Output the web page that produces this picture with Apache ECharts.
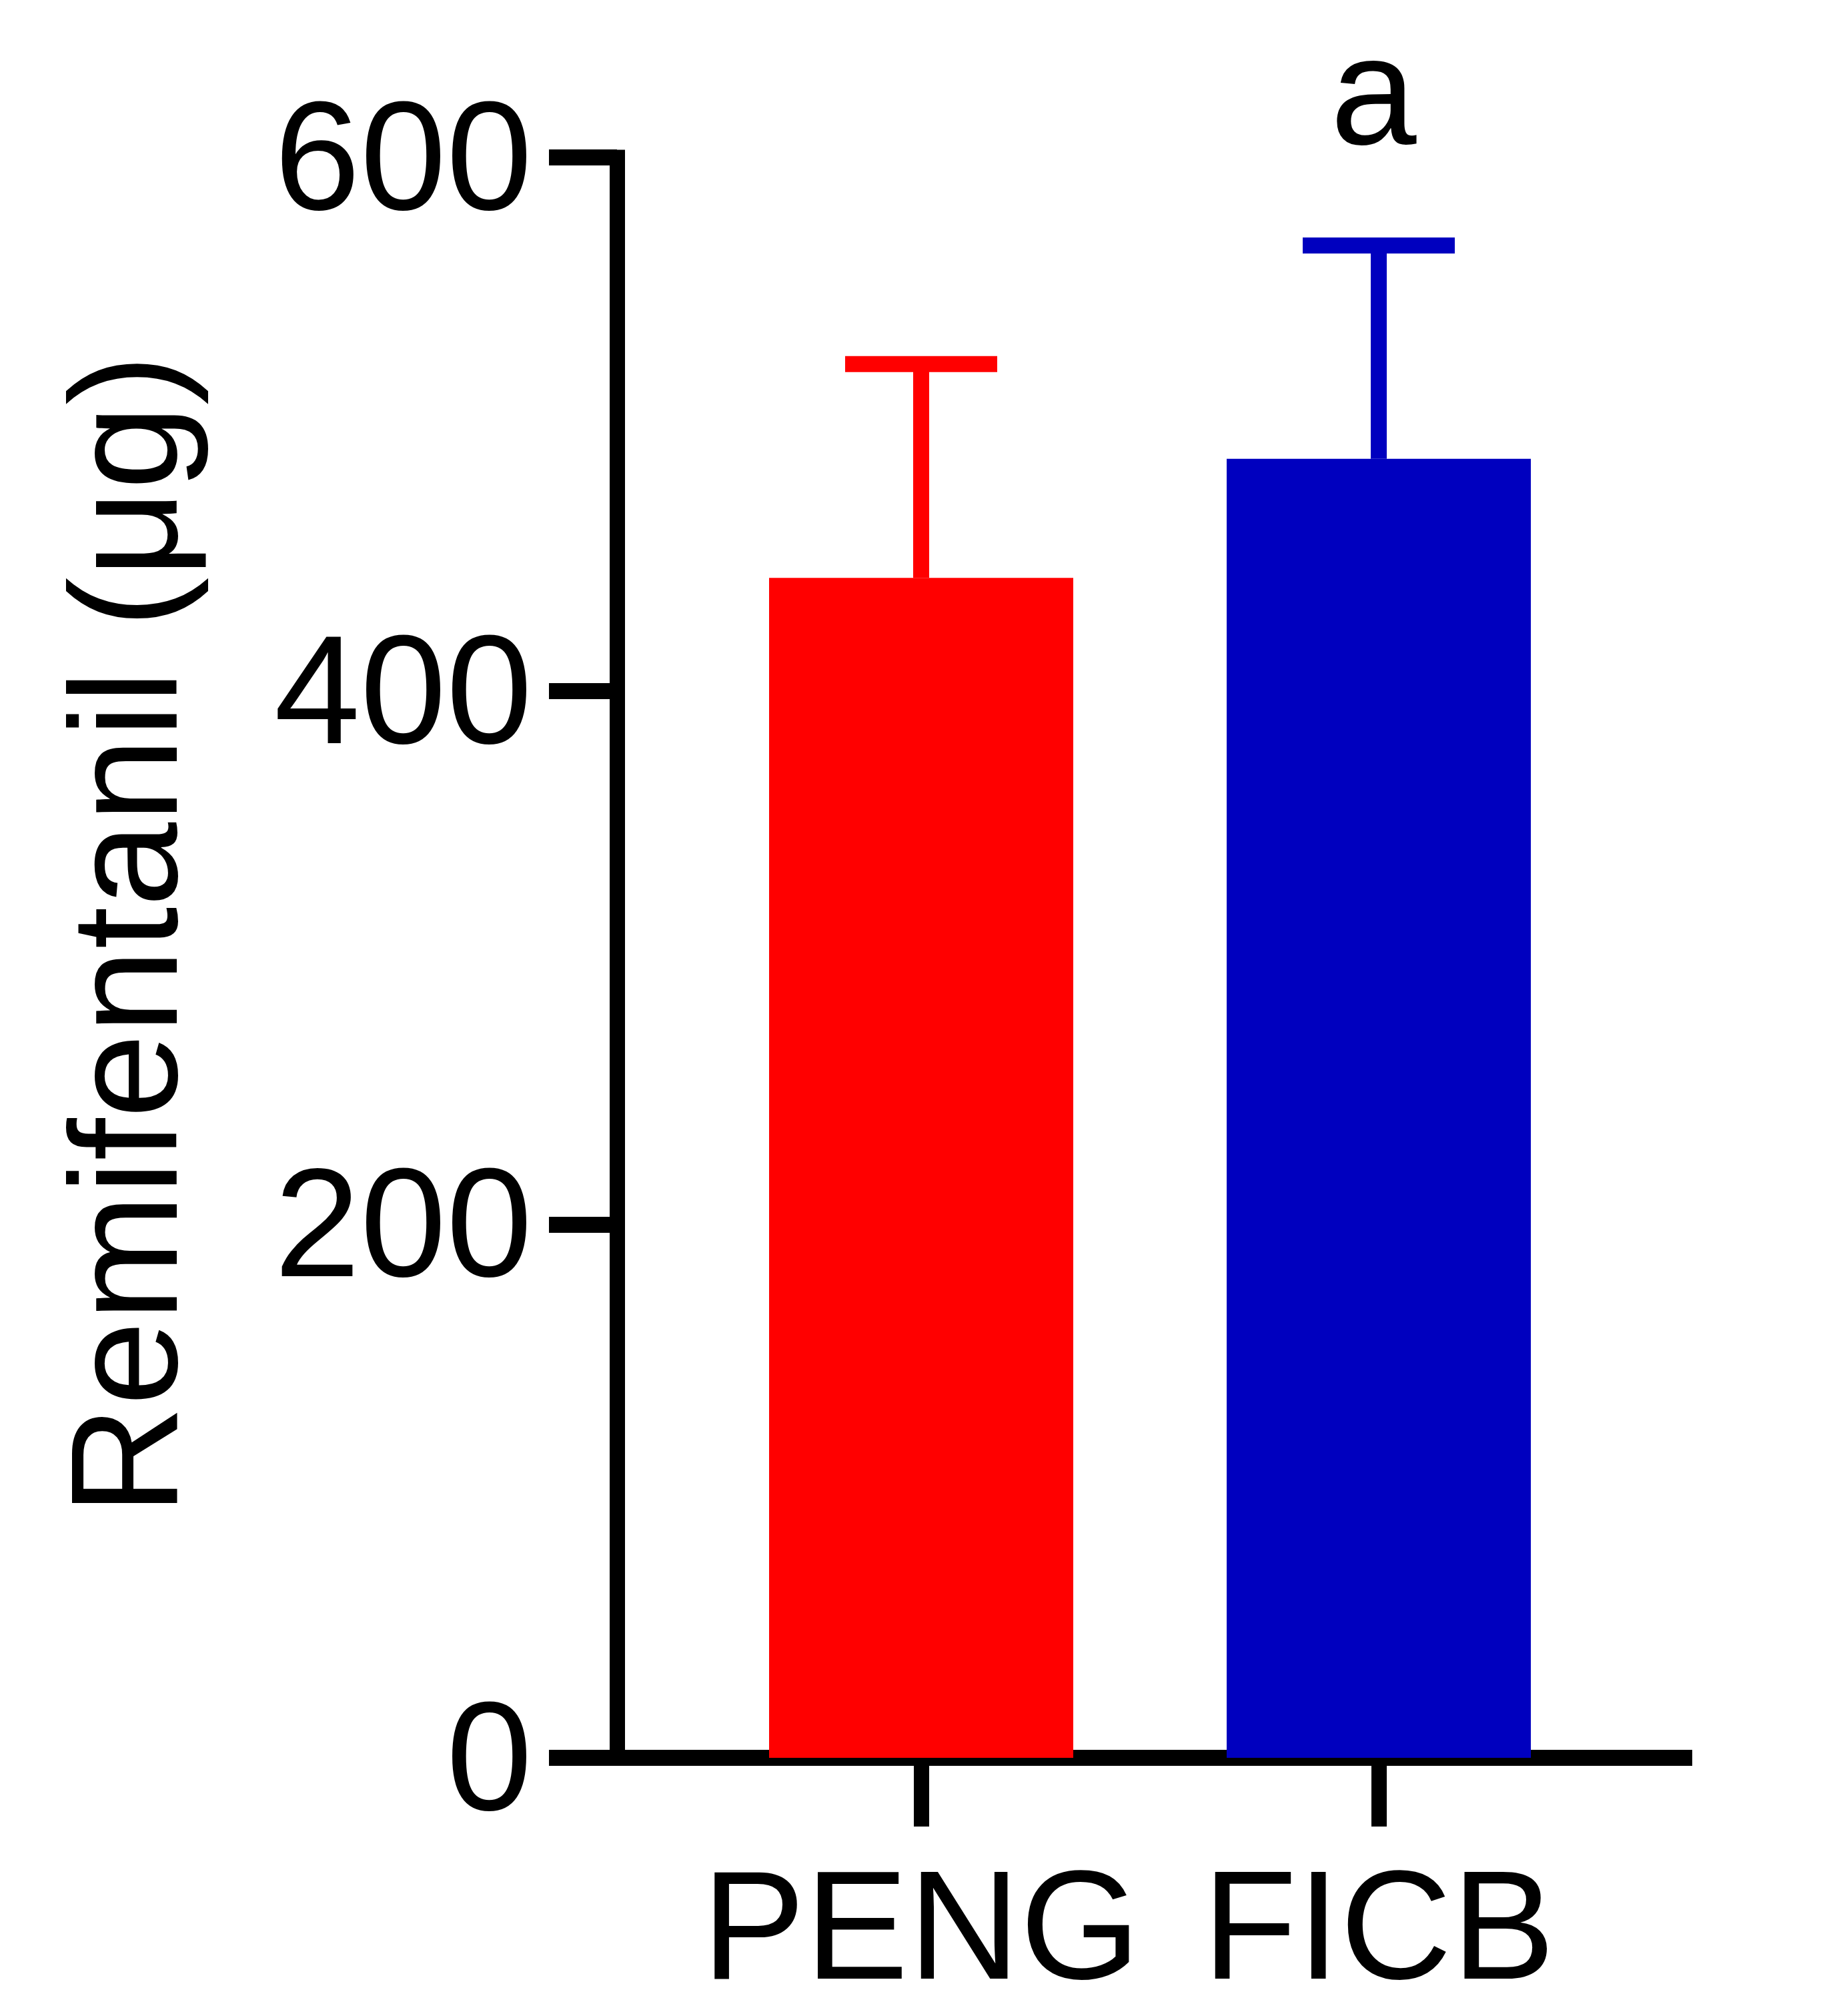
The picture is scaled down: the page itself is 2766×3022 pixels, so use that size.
<!DOCTYPE html>
<html>
<head>
<meta charset="utf-8">
<title>Remifentanil</title>
<script src="https://cdn.jsdelivr.net/npm/echarts@6.0.0/dist/echarts.min.js"></script>
<style>
  html, body { margin: 0; padding: 0; background: #fff; }
  #chart { width: 2766px; height: 3022px; }
</style>
</head>
<body>
<div id="chart"></div>
<script>
const categories = ["PENG", "FICB"];
const meanValues = [442.4, 487.0];
const sdValues = [80.1, 80.0];
const sigLetters = ["", "a"];
const barColors = ["#FF0000", "#0000BF"];
const yMin = 0;
const yMax = 600;
const yInterval = 200;

const FONT = "Liberation Sans";
const FONT_SIZE = 232;

const chart = echarts.init(document.getElementById("chart"), null, { renderer: "canvas" });

function renderErrorBar(params, api) {
  const idx = api.value(0);
  const mean = api.value(1);
  const sd = api.value(2);
  const base = api.coord([idx, mean]);
  const top = api.coord([idx, mean + sd]);
  const color = barColors[idx];
  const capHalf = 114;
  return {
    type: "group",
    children: [
      {
        type: "line",
        shape: { x1: base[0], y1: base[1], x2: top[0], y2: top[1] },
        style: { stroke: color, lineWidth: 24 },
      },
      {
        type: "line",
        shape: { x1: top[0] - capHalf, y1: top[1], x2: top[0] + capHalf, y2: top[1] },
        style: { stroke: color, lineWidth: 24 },
      },
      {
        type: "text",
        x: top[0] - 8,
        y: top[1] - 100,
        style: {
          text: sigLetters[idx],
          fill: "#000",
          font: `${FONT_SIZE}px "${FONT}"`,
          align: "center",
          verticalAlign: "bottom",
        },
      },
    ],
  };
}

const option = {
  animation: false,
  backgroundColor: "#fff",
  textStyle: { fontFamily: FONT },
  grid: [
    // bars
    { left: 1038, top: 236, width: 1372, bottom: 387, outerBoundsMode: "none" },
    // axis frame
    { left: 925, top: 236, width: 1600, bottom: 387, outerBoundsMode: "none" },
  ],
  xAxis: [
    {
      type: "category",
      gridIndex: 0,
      data: categories,
      axisLine: { show: false },
      axisTick: {
        show: true,
        alignWithLabel: true,
        length: 103,
        lineStyle: { color: "#000", width: 23 },
      },
      axisLabel: {
        color: "#000",
        fontFamily: FONT,
        fontSize: FONT_SIZE,
        margin: 151,
        interval: 0,
        hideOverlap: false,
      },
      splitLine: { show: false },
    },
    {
      type: "value",
      gridIndex: 1,
      min: 0,
      max: 1,
      axisLine: { show: true, lineStyle: { color: "#000", width: 24, cap: "square" } },
      axisTick: { show: false },
      axisLabel: { show: false },
      splitLine: { show: false },
    },
  ],
  yAxis: [
    {
      type: "value",
      gridIndex: 0,
      min: yMin,
      max: yMax,
      interval: yInterval,
      show: false,
    },
    {
      type: "value",
      gridIndex: 1,
      min: yMin,
      max: yMax,
      interval: yInterval,
      name: "Remifentanil (μg)",
      nameLocation: "middle",
      nameGap: 609,
      nameTextStyle: {
        color: "#000",
        fontFamily: FONT,
        fontSize: 228,
        padding: [0, 0, 0, 68],
      },
      axisLine: { show: true, lineStyle: { color: "#000", width: 23, cap: "square" } },
      axisTick: { show: true, length: 102, lineStyle: { color: "#000", width: 24 } },
      axisLabel: {
        color: "#000",
        fontFamily: FONT,
        fontSize: FONT_SIZE,
        margin: 127,
        verticalAlign: "top",
        lineHeight: 28,
      },
      splitLine: { show: false },
    },
  ],
  series: [
    {
      type: "bar",
      xAxisIndex: 0,
      yAxisIndex: 0,
      barWidth: 456,
      data: meanValues.map((v, i) => ({ value: v, itemStyle: { color: barColors[i] } })),
      z: 2,
    },
    {
      type: "custom",
      xAxisIndex: 0,
      yAxisIndex: 0,
      renderItem: renderErrorBar,
      encode: { x: 0, y: 1 },
      data: meanValues.map((v, i) => [i, v, sdValues[i]]),
      z: 3,
    },
  ],
};

chart.setOption(option);
window.addEventListener("resize", chart.resize);
</script>
</body>
</html>
